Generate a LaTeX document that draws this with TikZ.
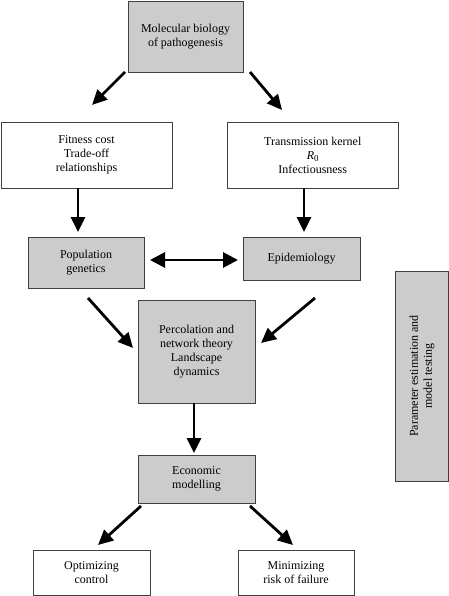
\documentclass[tikz,border=0pt]{standalone}
\usepackage{fontspec}
\setmainfont{Liberation Serif}
\usetikzlibrary{arrows.meta}
\begin{document}
\begin{tikzpicture}[x=1pt,y=-1pt,
  box/.style={draw=black!75,line width=0.8pt,rectangle,align=center,inner sep=0pt,
    font=\fontsize{12pt}{14pt}\selectfont},
  gbox/.style={box,fill=black!20},
  wbox/.style={box,fill=white},
  arr/.style={line width=2.8pt,-{Triangle[length=15pt,width=14pt]}},
  darr/.style={line width=2.8pt,{Triangle[length=15pt,width=15pt]}-{Triangle[length=15pt,width=15pt]}}]
\useasboundingbox (0,0) rectangle (449,596);
\node[gbox,minimum width=115pt,minimum height=71pt] (mol) at (185.5,36.5) {Molecular biology\\of pathogenesis};
\node[wbox,minimum width=171pt,minimum height=66pt] (fit) at (86.5,155) {Fitness cost\\Trade-off\\relationships};
\node[wbox,minimum width=171.5pt,minimum height=66pt] (tra) at (312.75,155) {Transmission kernel\\{\itshape R}\raisebox{-0.35ex}{\fontsize{9pt}{10pt}\selectfont 0}\\Infectiousness};
\node[gbox,minimum width=116pt,minimum height=51pt] (pop) at (86,262.5) {Population\\genetics};
\node[gbox,minimum width=117pt,minimum height=43pt] (epi) at (301.5,258.5) {Epidemiology};
\node[gbox,minimum width=117pt,minimum height=103pt] (per) at (196.5,351.5) {Percolation and\\network theory\\Landscape\\dynamics};
\node[gbox,minimum width=53pt,minimum height=210pt] (par) at (422,376) {};
\node[rotate=90,align=center,font=\fontsize{12pt}{14pt}\selectfont] (partxt) at (par.center) {Parameter estimation and\\model testing};
\node[gbox,minimum width=117pt,minimum height=48pt] (eco) at (196.5,479) {Economic\\modelling};
\node[wbox,minimum width=117pt,minimum height=45pt] (opt) at (91.5,572.5) {Optimizing\\control};
\node[wbox,minimum width=116pt,minimum height=45pt] (min) at (296,572.5) {Minimizing\\risk of failure};
% arrow endpoints
\coordinate (a1s) at (125,72);  \coordinate (a1e) at (92,105);
\coordinate (a2s) at (250,72);  \coordinate (a2e) at (282,110);
\coordinate (a3s) at (78,188);  \coordinate (a3e) at (78,232);
\coordinate (a4s) at (304,188); \coordinate (a4e) at (304,232);
\coordinate (d1) at (150,260);  \coordinate (d2) at (238,260);
\coordinate (a5s) at (88,298);  \coordinate (a5e) at (133,348);
\coordinate (a6s) at (315,298); \coordinate (a6e) at (261,343);
\coordinate (a7s) at (194,403); \coordinate (a7e) at (194,453);
\coordinate (a8s) at (141,506); \coordinate (a8e) at (98,545);
\coordinate (a9s) at (250,506); \coordinate (a9e) at (293,545);
\draw[arr] (a1s) -- (a1e);
\draw[arr] (a2s) -- (a2e);
\draw[arr] (a3s) -- (a3e);
\draw[arr] (a4s) -- (a4e);
\draw[darr] (d1) -- (d2);
\draw[arr] (a5s) -- (a5e);
\draw[arr] (a6s) -- (a6e);
\draw[arr] (a7s) -- (a7e);
\draw[arr] (a8s) -- (a8e);
\draw[arr] (a9s) -- (a9e);
\end{tikzpicture}
\end{document}
